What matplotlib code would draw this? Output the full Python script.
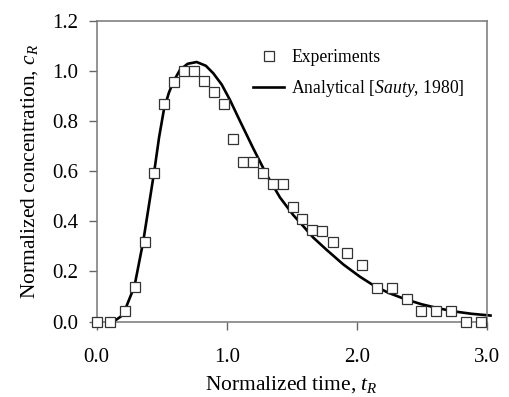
import matplotlib
matplotlib.use('Agg')
import matplotlib.pyplot as plt
from matplotlib.ticker import FormatStrFormatter

t_exp = [0.0, 0.10, 0.218, 0.295, 0.372, 0.443, 0.518, 0.595, 0.672, 0.749,
         0.828, 0.902, 0.979, 1.051, 1.128, 1.205, 1.282, 1.358, 1.435, 1.508,
         1.582, 1.654, 1.735, 1.815, 1.928, 2.043, 2.154, 2.269, 2.385, 2.495,
         2.61, 2.723, 2.84, 2.954]
c_exp = [0.0, 0.0, 0.043, 0.136, 0.317, 0.593, 0.867, 0.957, 1.0, 1.0,
         0.96, 0.915, 0.868, 0.728, 0.638, 0.638, 0.592, 0.548, 0.548, 0.456,
         0.41, 0.366, 0.363, 0.317, 0.272, 0.226, 0.133, 0.133, 0.089, 0.043,
         0.043, 0.043, 0.0, 0.0]

# Analytical curve (Sauty, 1980)
t_ana = [0.13, 0.185, 0.218, 0.269, 0.295, 0.32, 0.358, 0.40, 0.443, 0.48,
         0.518, 0.555, 0.59, 0.641, 0.70, 0.769, 0.84, 0.897, 0.962, 1.025,
         1.102, 1.205, 1.308, 1.41, 1.512, 1.59, 1.666, 1.769, 1.897, 2.025,
         2.128, 2.243, 2.37, 2.5, 2.628, 2.756, 2.885, 3.03]
c_ana = [0.0, 0.02, 0.047, 0.113, 0.153, 0.219, 0.320, 0.458, 0.600, 0.735,
         0.848, 0.912, 0.957, 1.004, 1.028, 1.035, 1.02, 0.99, 0.945, 0.884,
         0.80, 0.69, 0.585, 0.495, 0.425, 0.38, 0.335, 0.286, 0.228, 0.179,
         0.145, 0.115, 0.09, 0.069, 0.053, 0.04, 0.031, 0.024]

x_ticks = [0, 1, 2, 3]
y_ticks = [0.0, 0.2, 0.4, 0.6, 0.8, 1.0, 1.2]

plt.rcParams['font.family'] = 'Liberation Serif'
plt.rcParams['mathtext.fontset'] = 'custom'
plt.rcParams['mathtext.rm'] = 'Liberation Serif'
plt.rcParams['mathtext.it'] = 'Liberation Serif:italic'

fig = plt.figure(figsize=(5.09, 3.97), dpi=100)
ax = fig.add_axes([0.19, 0.19, 0.766, 0.758])

ax.plot(t_ana, c_ana, color='black', lw=1.9, clip_on=False, zorder=2,
        label=r'Analytical [$\mathit{Sauty}$, 1980]')
ax.plot(t_exp, c_exp, ls='none', marker='s', ms=7.5, mfc='white',
        mec='#333333', mew=0.9, clip_on=False, zorder=3, label='Experiments')

ax.set_xlim(0, 3)
ax.set_ylim(0, 1.2)
ax.set_xticks(x_ticks)
ax.set_yticks(y_ticks)
ax.xaxis.set_major_formatter(FormatStrFormatter('%.1f'))
ax.yaxis.set_major_formatter(FormatStrFormatter('%.1f'))
ax.tick_params(axis='both', direction='out', length=6, width=1.0,
               color='#666666', labelsize=15)
ax.tick_params(axis='x', pad=13)
ax.tick_params(axis='y', pad=7)
for s in ax.spines.values():
    s.set_color('#777777')
    s.set_linewidth(1.1)

ax.set_xlabel(r'Normalized time, $t_R$', fontsize=15.5, labelpad=5)
ax.set_ylabel(r'Normalized concentration, $c_R$', fontsize=15.5, labelpad=9)

handles, labels = ax.get_legend_handles_labels()
ax.legend(handles[::-1], labels[::-1], loc='upper left',
          bbox_to_anchor=(0.40, 0.905), frameon=False, fontsize=12.7,
          borderpad=0, borderaxespad=0, handlelength=1.8,
          handletextpad=0.4, labelspacing=0.65)

fig.savefig('out.png', dpi=100)
